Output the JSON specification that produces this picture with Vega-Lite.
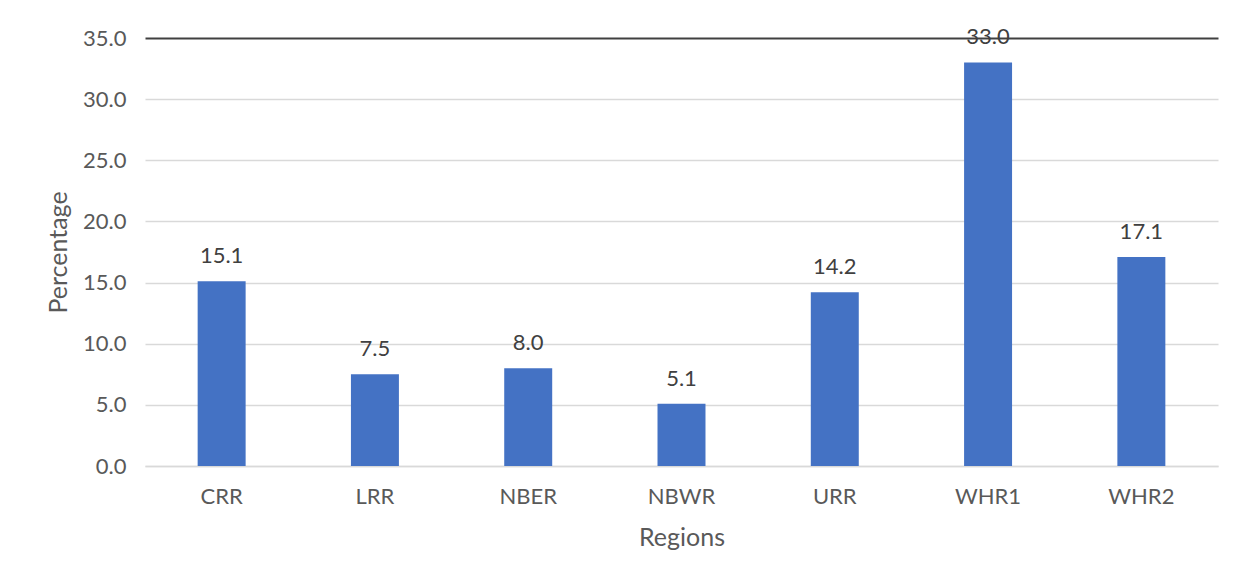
{
  "$schema": "https://vega.github.io/schema/vega-lite/v6.json",
  "autosize": {"type": "none"},
  "width": 1073,
  "height": 428,
  "padding": {"left": 145, "top": 38, "right": 26, "bottom": 114},
  "background": "white",
  "config": {
    "view": {"stroke": null},
    "font": "Lato",
    "axis": {"labelFont": "Lato", "titleFont": "Lato", "labelColor": "#595959", "titleColor": "#595959", "titleFontWeight": "normal"}
  },
  "data": {
    "values": [
      {"region": "CRR", "pct": 15.1},
      {"region": "LRR", "pct": 7.5},
      {"region": "NBER", "pct": 8.0},
      {"region": "NBWR", "pct": 5.1},
      {"region": "URR", "pct": 14.2},
      {"region": "WHR1", "pct": 33.0},
      {"region": "WHR2", "pct": 17.1}
    ]
  },
  "encoding": {
    "x": {
      "field": "region",
      "type": "nominal",
      "sort": null,
      "scale": {"paddingInner": 0.687, "paddingOuter": 0.3435},
      "axis": {
        "title": "Regions",
        "labelAngle": 0,
        "labelFontSize": 22,
        "titleFontSize": 25,
        "labelPadding": 20,
        "titlePadding": 18,
        "ticks": false,
        "domain": true,
        "domainColor": "#d9d9d9",
        "domainWidth": 1.5
      }
    },
    "y": {
      "field": "pct",
      "type": "quantitative",
      "scale": {"domain": [0, 35], "nice": false},
      "axis": {
        "title": "Percentage",
        "values": [0, 5, 10, 15, 20, 25, 30, 35],
        "format": ".1f",
        "labelFontSize": 22,
        "titleFontSize": 25,
        "labelPadding": 19,
        "titlePadding": 11,
        "ticks": false,
        "domain": false,
        "gridColor": {"condition": {"test": "datum.value === 35", "value": "#404040"}, "value": "#d9d9d9"},
        "gridWidth": {"condition": {"test": "datum.value === 35", "value": 2}, "value": 1.3}
      }
    }
  },
  "layer": [
    {"mark": {"type": "bar", "color": "#4472C4"}},
    {
      "mark": {"type": "text", "baseline": "alphabetic", "dy": -18, "fontSize": 22, "color": "#404040", "font": "Lato"},
      "encoding": {"text": {"field": "pct", "type": "quantitative", "format": ".1f"}}
    }
  ]
}
